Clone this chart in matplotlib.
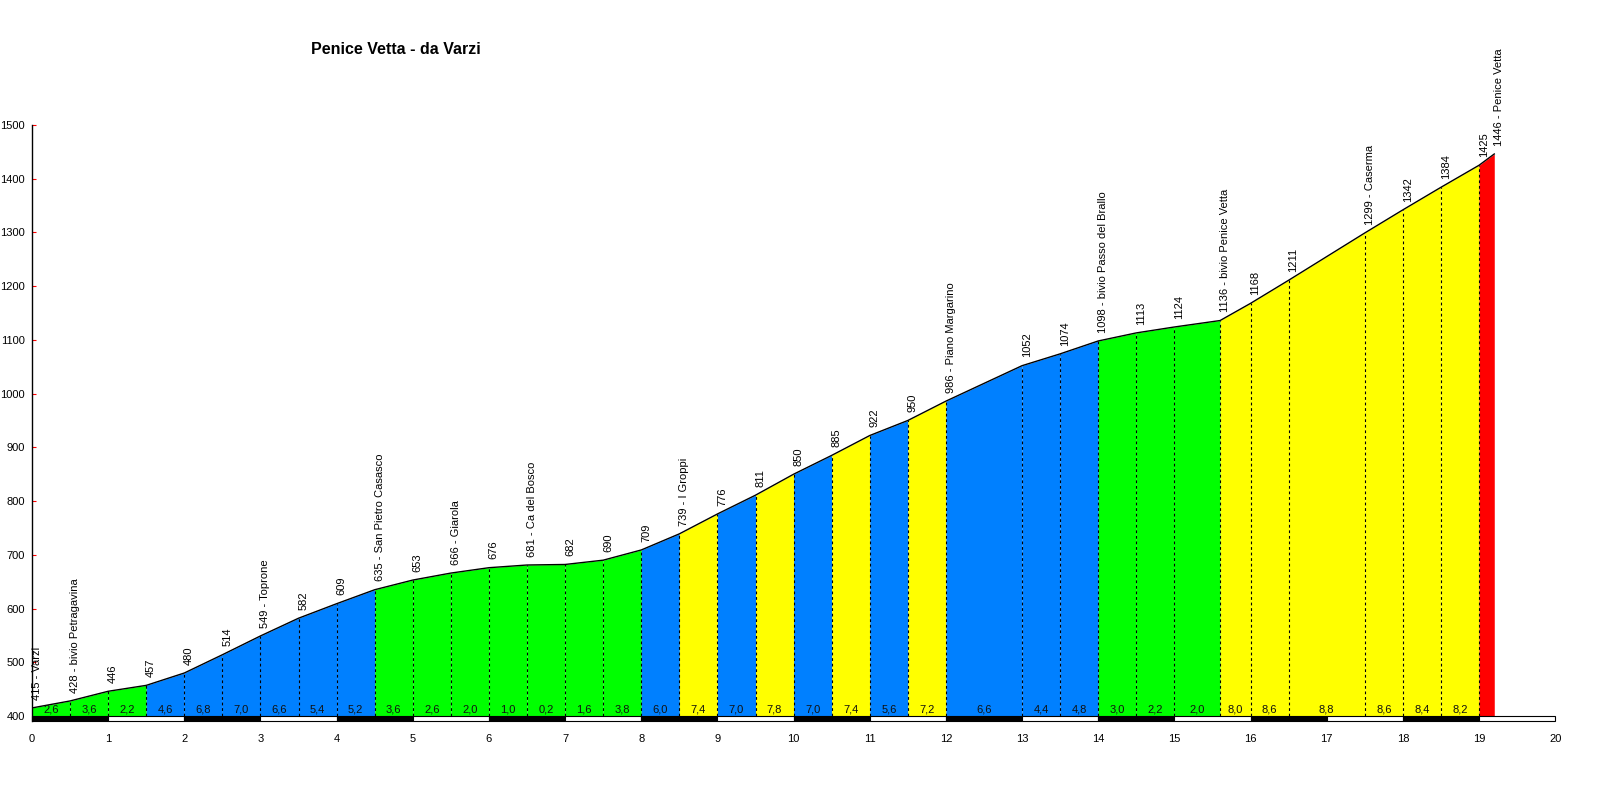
import numpy as np
import matplotlib
matplotlib.use("Agg")
import matplotlib.pyplot as plt
from matplotlib.patches import Rectangle

matplotlib.rcParams['font.family'] = ['Liberation Sans', 'DejaVu Sans']

# ── data ──────────────────────────────────────────────────
km = [0, 0.5, 1.0, 1.5, 2.0, 2.5, 3.0, 3.5, 4.0, 4.5, 5.0, 5.5, 6.0, 6.5,
      7.0, 7.5, 8.0, 8.5, 9.0, 9.5, 10.0, 10.5, 11.0, 11.5, 12.0, 13.0,
      13.5, 14.0, 14.5, 15.0, 15.6, 16.0, 16.5, 17.5, 18.0, 18.5, 19.0, 19.2]
quota = [415, 428, 446, 457, 480, 514, 549, 582, 609, 635, 653, 666, 676, 681,
         682, 690, 709, 739, 776, 811, 850, 885, 922, 950, 986, 1052,
         1074, 1098, 1113, 1124, 1136, 1168, 1211, 1299, 1342, 1384, 1425, 1446]
nomi = ["Varzi", "bivio Petragavina", "", "", "", "", "Toprone", "", "",
        "San Pietro Casasco", "", "Giarola", "", "Ca del Bosco", "", "", "",
        "I Groppi", "", "", "", "", "", "", "Piano Margarino", "", "",
        "bivio Passo del Brallo", "", "", "bivio Penice Vetta", "", "",
        "Caserma", "", "", "", "Penice Vetta"]
pendenza = [2.6, 3.6, 2.2, 4.6, 6.8, 7.0, 6.6, 5.4, 5.2, 3.6, 2.6, 2.0, 1.0,
            0.2, 1.6, 3.8, 6.0, 7.4, 7.0, 7.8, 7.0, 7.4, 5.6, 7.2, 6.6, 4.4,
            4.8, 3.0, 2.2, 2.0, 8.0, 8.6, 8.8, 8.6, 8.4, 8.2, 10.5]

x_ticks = list(range(0, 21))
y_ticks = list(range(400, 1501, 100))


def colore(p):
    if p < 4:
        return "#00ff00"
    if p <= 7:
        return "#0080ff"
    if p < 10:
        return "#ffff00"
    return "#ff0000"


fig = plt.figure(figsize=(16, 8), dpi=100, facecolor="white")
ax = fig.add_axes([0.02, 0.0983, 0.952, 0.7455])
BASE_Y = 400
BAR_H = 10
FS = 8

# ── coloured segments ─────────────────────────────────────
for i, p in enumerate(pendenza):
    xs = [km[i], km[i + 1]]
    ys = [quota[i], quota[i + 1]]
    ax.fill_between(xs, BASE_Y, ys, color=colore(p), linewidth=0, zorder=2)
    if km[i + 1] - km[i] >= 0.3:
        ax.text((km[i] + km[i + 1]) / 2, BASE_Y + 2,
                f"{p:.1f}".replace(".", ","),
                ha='center', va='bottom', fontsize=FS, color='#111111', zorder=5)

# dashed verticals at each waypoint
for xk, q in zip(km[1:-1], quota[1:-1]):
    ax.plot([xk, xk], [BASE_Y, q], color='black', lw=0.8,
            dashes=(2.5, 2.5), zorder=3)

ax.plot(km, quota, color='black', lw=1.0, zorder=4)

# waypoint labels
for xk, q, n in zip(km, quota, nomi):
    lab = f"{q} - {n}" if n else f"{q}"
    ax.annotate(lab, (xk, q), xytext=(3.5, 6), textcoords='offset points',
                rotation=90, ha='center', va='bottom', fontsize=FS,
                color='black', zorder=5)

# km bar along the bottom
for k in range(20):
    ax.add_patch(Rectangle((k, BASE_Y - BAR_H), 1, BAR_H,
                           facecolor='black' if k % 2 == 0 else 'white',
                           edgecolor='black', lw=0.8, zorder=4, clip_on=False))

ax.set_xlim(0, 20)
ax.set_ylim(BASE_Y - BAR_H, 1500)
ax.set_xticks(x_ticks)
ax.set_xticklabels([str(v) for v in x_ticks], fontsize=FS)
ax.set_yticks(y_ticks)
ax.set_yticklabels([str(v) for v in y_ticks], fontsize=FS)
ax.tick_params(axis='x', length=0, pad=9)
ax.tick_params(axis='y', direction='in', length=3, color='red', pad=5)
for s in ['top', 'right', 'bottom']:
    ax.spines[s].set_visible(False)
ax.spines['left'].set_color('black')
ax.spines['left'].set_linewidth(1.0)

fig.text(0.2475, 0.938, "Penice Vetta - da Varzi", ha='center', va='center',
         fontsize=11.5, fontweight='bold', color='black')

plt.savefig("out.png", dpi=100, facecolor='white')
